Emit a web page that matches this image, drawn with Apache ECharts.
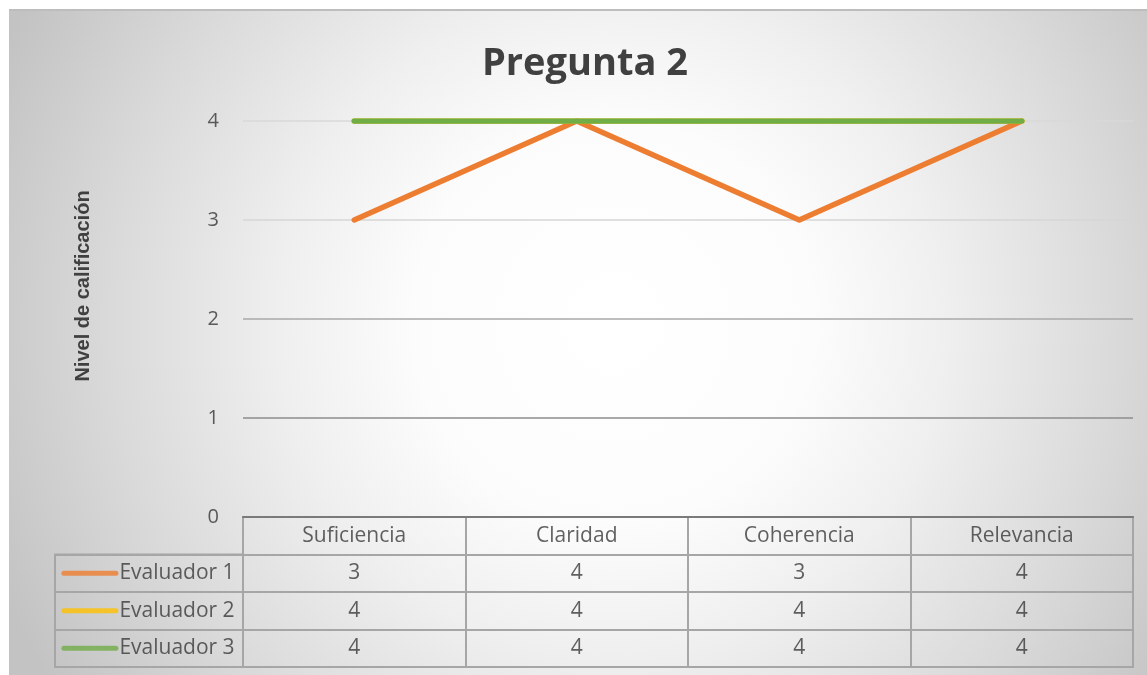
<!DOCTYPE html>
<html>
<head>
<meta charset="utf-8">
<script src="https://cdn.jsdelivr.net/npm/echarts@6/dist/echarts.min.js"></script>
<style>
html,body{margin:0;padding:0;background:#fff;}
#chart{width:1147px;height:675px;}
</style>
</head>
<body>
<div id="chart"></div>
<script>
// ---- data ----
const categories = ['Suficiencia', 'Claridad', 'Coherencia', 'Relevancia'];
const seriesNames = ['Evaluador 1', 'Evaluador 2', 'Evaluador 3'];
const evaluador1 = [3, 4, 3, 4];
const evaluador2 = [4, 4, 4, 4];
const evaluador3 = [4, 4, 4, 4];
const yTicks = [0, 1, 2, 3, 4];
const titleText = 'Pregunta 2';
const yAxisTitle = 'Nivel de calificación';

const seriesValues = [evaluador1, evaluador2, evaluador3];
const seriesColors = ['#ED7D31', '#FFC000', '#70AD47'];
const tableRows = ['header'].concat(seriesNames);
const tableFont = 'Open Sans';
const textColor = '#3a3a3a';

const chart = echarts.init(document.getElementById('chart'), null, {renderer: 'canvas'});

const lineSeries = seriesNames.map((n, i) => ({
  name: n, type: 'line', xAxisIndex: 0, yAxisIndex: 0,
  data: seriesValues[i], showSymbol: false, symbol: 'none', silent: true,
  lineStyle: {color: seriesColors[i], width: 5.5, cap: 'round', join: 'round'},
  itemStyle: {color: seriesColors[i]}, z: 3 + i
}));

const headerSeries = {
  type: 'scatter', xAxisIndex: 1, yAxisIndex: 1, symbolSize: 0, silent: true,
  data: categories.map(c => [c, 'header']),
  label: {show: true, position: 'inside', formatter: p => p.value[0],
          fontFamily: tableFont, fontSize: 21, color: textColor}
};

const valueSeries = seriesNames.map((n, i) => ({
  type: 'scatter', xAxisIndex: 1, yAxisIndex: 1, symbolSize: 0, silent: true,
  data: categories.map((c, j) => [c, n, seriesValues[i][j]]),
  label: {show: true, position: 'inside', formatter: p => String(p.value[2]),
          fontFamily: tableFont, fontSize: 21, color: textColor}
}));

const keyRich = {t: {fontFamily: tableFont, fontSize: 21, color: textColor, padding: [0, 0, 0, 1]}};
seriesColors.forEach((c, i) => {
  keyRich['k' + i] = {width: 57, height: 5, backgroundColor: c, borderRadius: 3};
});
const keySeries = {
  type: 'scatter', xAxisIndex: 2, yAxisIndex: 2, symbolSize: 0, silent: true,
  data: seriesNames.map(n => ['key', n]),
  label: {show: true, position: 'inside', offset: [-1, 0],
          formatter: p => '{k' + p.dataIndex + '|}{t|' + p.value[1] + '}',
          rich: keyRich}
};

const borderColor = '#a6a6a6';

const option = {
  animation: false,
  backgroundColor: '#ffffff',
  title: {
    text: titleText, left: 477, top: 40,
    textStyle: {fontFamily: 'Open Sans', fontWeight: 'bold', fontSize: 38, color: '#404040'}
  },
  graphic: {
    elements: [
      {type: 'rect', z: -10, silent: true,
       shape: {x: 9, y: 9, width: 1140, height: 668},
       style: {fill: {type: 'radial', x: 0.53, y: 0.47, r: 1.0,
               colorStops: [{offset: 0, color: '#ffffff'}, {offset: 0.3, color: '#fcfcfc'},
                            {offset: 0.5, color: '#efefef'}, {offset: 0.75, color: '#dadada'},
                            {offset: 1, color: '#c3c3c3'}]}}},
      {type: 'line', z: -9, silent: true,
       shape: {x1: 9, y1: 10, x2: 1147, y2: 10},
       style: {stroke: '#bdbdbd', lineWidth: 2}}
    ]
  },
  grid: [
    {left: 243, right: 14, top: 121, height: 396},
    {left: 243, right: 14, top: 517, height: 150, show: true, borderColor: borderColor, borderWidth: 2},
    {left: 55, width: 188, top: 554.5, height: 112.5, show: true, borderColor: borderColor, borderWidth: 2}
  ],
  xAxis: [
    {gridIndex: 0, type: 'category', data: categories, boundaryGap: true, z: 6,
     axisLine: {show: true, lineStyle: {color: '#7a7a7a', width: 2}},
     axisTick: {show: false}, axisLabel: {show: false}, splitLine: {show: false}},
    {gridIndex: 1, type: 'category', data: categories, boundaryGap: true,
     axisLine: {show: false}, axisTick: {show: false}, axisLabel: {show: false},
     splitLine: {show: true, interval: 0, lineStyle: {color: borderColor, width: 2}}},
    {gridIndex: 2, type: 'category', data: ['key'], boundaryGap: true,
     axisLine: {show: false}, axisTick: {show: false}, axisLabel: {show: false},
     splitLine: {show: false}}
  ],
  yAxis: [
    {gridIndex: 0, type: 'value', min: yTicks[0], max: yTicks[yTicks.length - 1], interval: 1,
     axisLine: {show: false}, axisTick: {show: false},
     axisLabel: {fontFamily: tableFont, fontSize: 20, color: '#595959', margin: 24},
     splitLine: {show: true, lineStyle: {color: ['#8c8c8c', '#8c8c8c', '#a8a8a8', '#d6d6d6', '#d9d9d9'], width: 1.5}},
     name: yAxisTitle, nameLocation: 'middle', nameRotate: 90, nameGap: 150,
     nameTextStyle: {fontFamily: 'Liberation Sans', fontWeight: 'bold', fontSize: 20, color: '#404040',
                     padding: [0, 0, 0, 66]}},
    {gridIndex: 1, type: 'category', data: tableRows, inverse: true, boundaryGap: true,
     axisLine: {show: false}, axisTick: {show: false}, axisLabel: {show: false},
     splitLine: {show: true, interval: 0, lineStyle: {color: borderColor, width: 2}}},
    {gridIndex: 2, type: 'category', data: seriesNames, inverse: true, boundaryGap: true,
     axisLine: {show: false}, axisTick: {show: false}, axisLabel: {show: false},
     splitLine: {show: true, interval: 0, lineStyle: {color: borderColor, width: 2}}}
  ],
  series: lineSeries.concat([headerSeries], valueSeries, [keySeries])
};
chart.setOption(option);
</script>
</body>
</html>
